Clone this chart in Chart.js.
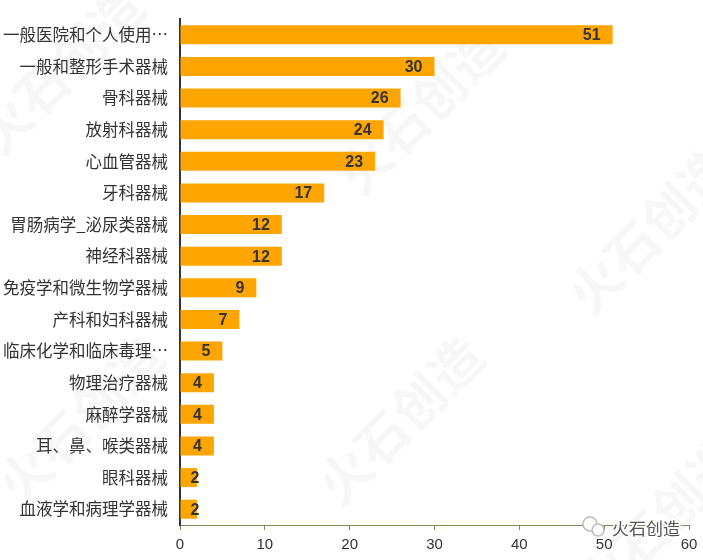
<!DOCTYPE html>
<html><head><meta charset="utf-8">
<script src="https://cdn.jsdelivr.net/npm/chart.js@4/dist/chart.umd.min.js"></script>
<style>html,body{margin:0;padding:0;background:#fff}#wrap{width:703px;height:560px;position:relative}</style>
</head><body><div id="wrap"><canvas id="c" width="703" height="560"></canvas></div>
<script>
const categories = ["一般医院和个人使用…","一般和整形手术器械","骨科器械","放射科器械","心血管器械","牙科器械","胃肠病学_泌尿类器械","神经科器械","免疫学和微生物学器械","产科和妇科器械","临床化学和临床毒理…","物理治疗器械","麻醉学器械","耳、鼻、喉类器械","眼科器械","血液学和病理学器械"];
const counts = [51,30,26,24,23,17,12,12,9,7,5,4,4,4,2,2];
const xTicks = [0,10,20,30,40,50,60];

const watermark = {
  id:'watermark',
  beforeDraw(chart){
    const ctx = chart.ctx;
    ctx.save();
    ctx.fillStyle = 'rgba(200,200,200,0.14)';
    ctx.font = 'bold 52px "Noto Sans CJK SC"';
    ctx.textAlign='center'; ctx.textBaseline='middle';
    const spots = [[60,70],[420,110],[650,230],[400,420],[80,420],[660,520]];
    for(const [x,y] of spots){
      ctx.save(); ctx.translate(x,y); ctx.rotate(-Math.PI/4); ctx.fillText('火石创造',0,0); ctx.restore();
    }
    ctx.restore();
  },
  afterDraw(chart){
    const ctx = chart.ctx;
    ctx.save();
    ctx.strokeStyle='#bbb'; ctx.lineWidth=1.5; ctx.fillStyle='#fff';
    ctx.beginPath(); ctx.arc(590,524,7,0,Math.PI*2); ctx.fill(); ctx.stroke();
    ctx.beginPath(); ctx.arc(598,530,6,0,Math.PI*2); ctx.fill(); ctx.stroke();
    ctx.font = '17px "Noto Sans CJK SC"';
    ctx.textAlign='left'; ctx.textBaseline='middle';
    ctx.lineWidth = 3; ctx.strokeStyle='#fff';
    ctx.strokeText('火石创造',612,529);
    ctx.fillStyle='#555';
    ctx.fillText('火石创造',612,529);
    ctx.restore();
  }
};

const labelsPlugin = {
  id:'barLabels',
  afterDatasetsDraw(chart){
    const ctx = chart.ctx;
    const meta = chart.getDatasetMeta(0);
    ctx.save();
    ctx.font = 'bold 16px "Liberation Sans", Arial, sans-serif';
    ctx.fillStyle = '#333';
    ctx.textBaseline='middle';
    ctx.textAlign='left';
    meta.data.forEach((bar,i)=>{
      const t = String(counts[i]);
      const w = ctx.measureText(t).width;
      let left = bar.x - 12 - w;
      if(left < bar.base + 10) left = bar.base + 10;
      ctx.fillText(t, left, bar.y+1);
    });
    ctx.restore();
  }
};

new Chart(document.getElementById('c'),{
  type:'bar',
  data:{labels:categories,datasets:[{data:counts,backgroundColor:'#FFA500',borderWidth:0,barPercentage:0.6,categoryPercentage:1}]},
  options:{
    indexAxis:'y',
    responsive:false,
    animation:false,
    layout:{padding:{top:19,right:14,left:0,bottom:0}},
    plugins:{legend:{display:false},tooltip:{enabled:false}},
    scales:{
      x:{
        min:0,max:60,
        afterBuildTicks(s){ s.ticks = xTicks.map(v=>({value:v})); },
        afterFit(s){ s.height = 35; s.paddingLeft = 0; s.paddingRight = 0; },
        grid:{drawOnChartArea:false,drawTicks:true,tickLength:5,color:'#8c8656',lineWidth:1},
        border:{display:true,color:'#8c8656',width:1},
        ticks:{color:'#333',font:{size:15,family:'"Liberation Sans", Arial, sans-serif'},padding:6}
      },
      y:{
        afterFit(s){ s.width = 180; s.paddingTop = 0; s.paddingBottom = 0; },
        grid:{display:false,drawTicks:false},
        border:{display:true,color:'#333',width:2},
        ticks:{color:'#333',font:{size:16.5,family:'"Noto Sans CJK SC"'},padding:12,autoSkip:false}
      }
    }
  },
  plugins:[watermark,labelsPlugin]
});
</script></body></html>
